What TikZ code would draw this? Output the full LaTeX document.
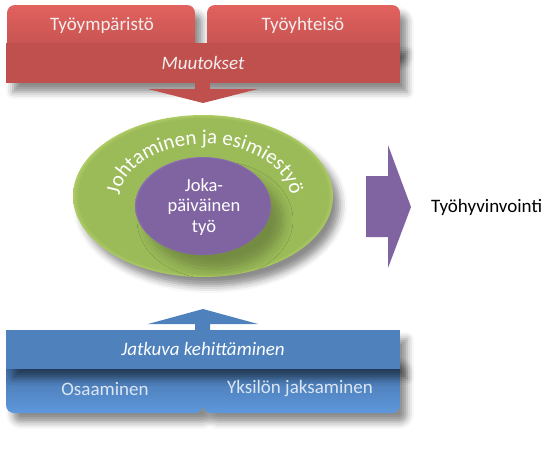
\documentclass[tikz,border=0pt]{standalone}
\usepackage{fontspec}
\setmainfont{Carlito}
\usetikzlibrary{shadows.blur,decorations.text}
\definecolor{offred}{HTML}{C0504D}
\definecolor{redtop}{HTML}{E2625F}
\definecolor{offblue}{HTML}{4F81BD}
\definecolor{bluetop}{HTML}{385D8A}
\definecolor{bluebot}{HTML}{5E98DC}
\definecolor{offgreen}{HTML}{9BBB59}
\definecolor{greenrim}{HTML}{DCF27E}
\definecolor{offpurple}{HTML}{8064A2}
\definecolor{purplerim}{HTML}{BC9CE8}
\definecolor{txtred}{HTML}{F4EEEE}
\definecolor{txtblue}{HTML}{DCE6F2}
\pgfdeclareradialshading{greenglow}{\pgfpoint{0bp}{0bp}}{color(0bp)=(offgreen); color(24bp)=(offgreen); color(27.5bp)=(greenrim); color(50bp)=(greenrim)}
\pgfdeclareradialshading{purpleglow}{\pgfpoint{0bp}{0bp}}{color(0bp)=(offpurple); color(24.5bp)=(offpurple); color(27.5bp)=(purplerim); color(50bp)=(purplerim)}
\tikzset{
  shad/.style={blur shadow={shadow xshift=7pt, shadow yshift=-9pt, shadow blur radius=7pt, shadow opacity=45}},
  redtab/.style={shad, top color=redtop, bottom color=offred, rounded corners=8pt},
  redbar/.style={shad, fill=offred},
  bluetab/.style={shad, top color=bluetop, bottom color=bluebot, middle color=offblue, rounded corners=8pt},
  bluebar/.style={shad, fill=offblue},
  lbl/.style={font=\fontsize{19}{21}\selectfont, inner sep=0pt},
}
\begin{document}
\begin{tikzpicture}[x=1pt,y=-1pt]
\useasboundingbox (0,0) rectangle (556,453);
% top group
\path[redtab] (7,5) rectangle (195,55);
\path[redtab] (207,5) rectangle (400,55);
\path[redbar] (6,43) rectangle (400,83);
\fill[offred] (195,82) -- (210,82) -- (210,89) -- (258,89) -- (203,103) -- (148,89) -- (195,89) -- cycle;
\node[lbl, text=txtred] (tab1) at (102,25) {Työympäristö};
\node[lbl, text=txtred] (tab2) at (303,25) {Työyhteisö};
\node[lbl, text=txtred, font=\fontsize{19}{21}\selectfont\itshape] (muut) at (203,63) {Muutokset};
% ellipses
\path[shad, shading=greenglow] (203,196) ellipse [x radius=130, y radius=81];
\path[blur shadow={shadow xshift=12pt, shadow yshift=-14pt, shadow blur radius=10pt, shadow opacity=25}, shading=purpleglow] (203,206) ellipse [x radius=68, y radius=49];
\node[lbl, text=white, align=center, font=\fontsize{18.5}{20.5}\selectfont] (inner) at (204,207) {Joka-\\päiväinen\\työ};
\path[decorate, decoration={text along path, text align=center,
  text={|\fontsize{21}{21}\selectfont\color{white}|Johtaminen ja esimiestyö}}]
  (205,201) ++(185:86 and 57) arc[start angle=185, end angle=355, x radius=86, y radius=57];
% right arrow
\fill[offpurple] (366,176) -- (388,176) -- (388,145) -- (411,207) -- (388,268) -- (388,237) -- (366,237) -- cycle;
\node[lbl, anchor=west] (hyv) at (431,207) {Työhyvinvointi};
% bottom group
\path[bluetab] (6,355) rectangle (203,413);
\path[bluetab] (203,355) rectangle (400,413);
\path[bluebar] (6,330) rectangle (400,369);
\fill[offblue] (195,331) -- (210,331) -- (210,324) -- (258,324) -- (203,309) -- (148,324) -- (195,324) -- cycle;
\node[lbl, text=white, font=\fontsize{19}{21}\selectfont\itshape] (jatk) at (203,349) {Jatkuva kehittäminen};
\node[lbl, text=txtblue] (osa) at (105,389) {Osaaminen};
\node[lbl, text=txtblue] (yks) at (300,389) {Yksilön jaksaminen};
\end{tikzpicture}
\end{document}
